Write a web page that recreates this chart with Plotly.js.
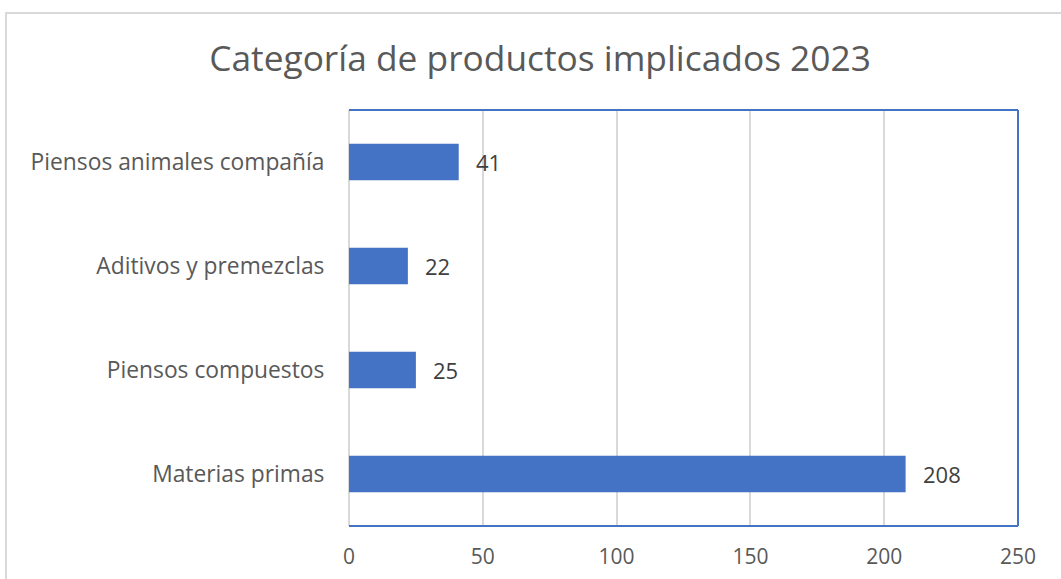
<!DOCTYPE html>
<html><head><meta charset="utf-8">
<script src="https://cdn.plot.ly/plotly-3.0.1.min.js"></script>
<style>
html,body{margin:0;padding:0;background:#fff;overflow:hidden;}
#frame{position:absolute;left:5px;top:12px;width:1200px;height:700px;border:2px solid #d9d9d9;box-sizing:border-box;pointer-events:none;z-index:2;}
#chart{position:absolute;left:0;top:0;width:1061px;height:579px;}
</style></head>
<body>
<div id="chart"></div>
<div id="frame"></div>
<script>
const categories = ["Materias primas", "Piensos compuestos", "Aditivos y premezclas", "Piensos animales compañía"];
const values = [208, 25, 22, 41];
const tickVals = [0, 50, 100, 150, 200, 250];

const blue = '#4472C4';
const annotations = categories.map((c, i) => ({
  x: values[i], y: c, xref: 'x', yref: 'y', text: String(values[i]),
  showarrow: false, xanchor: 'left', xshift: 15,
  font: {family: 'Open Sans, sans-serif', size: 22, color: '#404040'}
}));

const shapes = [
  {type:'line', xref:'paper', yref:'paper', x0:0, x1:1, y0:1, y1:1, line:{color:blue, width:2}},
  {type:'line', xref:'paper', yref:'paper', x0:0, x1:1, y0:0, y1:0, line:{color:blue, width:2}},
  {type:'line', xref:'paper', yref:'paper', x0:1, x1:1, y0:0, y1:1, line:{color:blue, width:2}}
];

Plotly.newPlot('chart', [{
  type: 'bar', orientation: 'h', x: values, y: categories,
  marker: {color: blue}, hoverinfo: 'none'
}], {
  width: 1061, height: 579,
  margin: {l: 349, r: 43, t: 110, b: 53, pad: 0},
  paper_bgcolor: 'rgba(0,0,0,0)', plot_bgcolor: '#fff',
  bargap: 0.65,
  showlegend: false,
  title: {text: 'Categoría de productos implicados 2023', x: 0.509, xanchor: 'center', y: 0.899, yanchor: 'middle',
    font: {family: 'Open Sans, sans-serif', size: 35.3, color: '#595959'}},
  xaxis: {range: [0, 250], tickvals: tickVals, showgrid: true, gridcolor: '#d9d9d9', gridwidth: 2,
    zeroline: true, zerolinecolor: '#d9d9d9', zerolinewidth: 2, showline: false,
    ticks: 'outside', ticklen: 12, tickcolor: 'rgba(0,0,0,0)',
    tickfont: {family: 'Open Sans, sans-serif', size: 21, color: '#595959'}, fixedrange: true},
  yaxis: {type: 'category', showgrid: false, zeroline: false, showline: false,
    ticks: 'outside', ticklen: 19, tickcolor: 'rgba(0,0,0,0)',
    tickfont: {family: 'Open Sans, sans-serif', size: 22.8, color: '#595959'}, fixedrange: true},
  annotations: annotations,
  shapes: shapes
}, {displayModeBar: false, staticPlot: true});
</script>
</body></html>
